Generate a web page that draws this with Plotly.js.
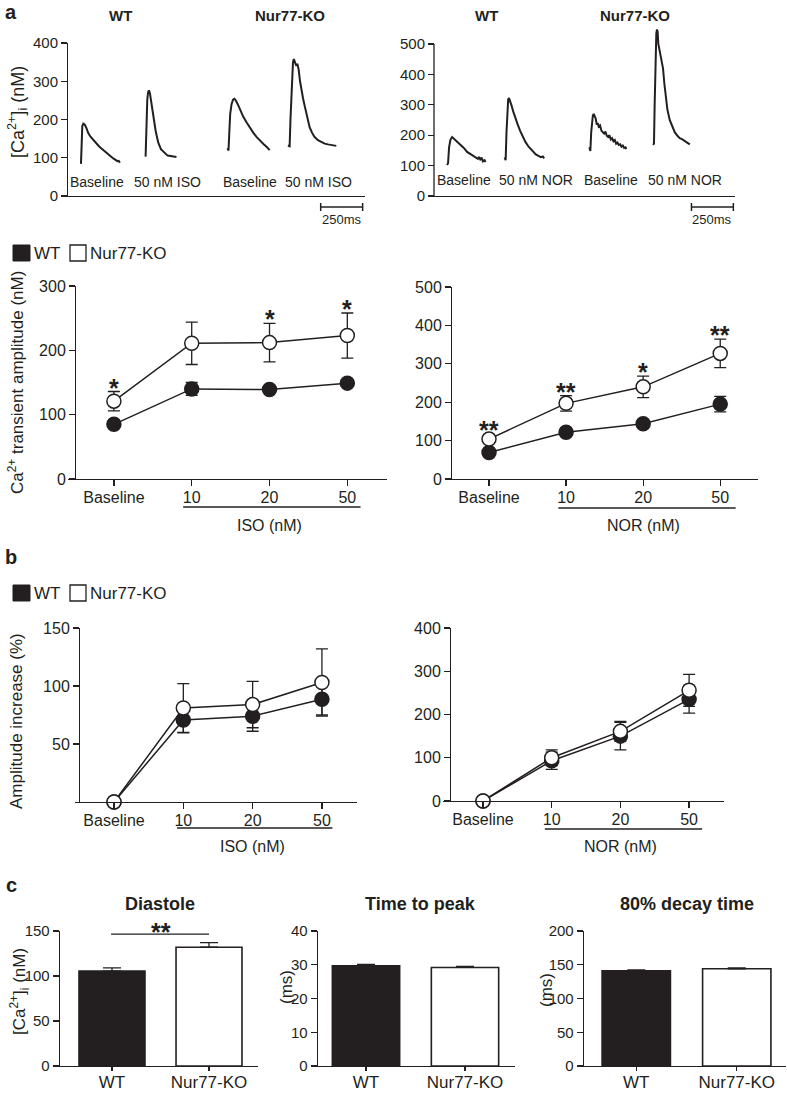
<!DOCTYPE html>
<html><head><meta charset="utf-8">
<script src="https://cdn.plot.ly/plotly-3.0.1.min.js"></script>
<style>html,body{margin:0;padding:0;background:#fff}</style>
</head><body><div id="chart" style="width:787px;height:1094px"></div>
<script>
// ================= DATA =================
const groups = ['WT', 'Nur77-KO'];
const doseCats = ['Baseline', '10', '20', '50'];

// Panel a: representative Ca2+ transients (time in ms, [Ca2+]i in nM)
const wtIsoBaseT = [113,117,121,127,135,145,157,170,180,190,200,210,220,230,240,250,260,270,280,290,300,310,320,330,338,345];
const wtIsoBaseV = [84,150,183,189,187,178,164,155,150,145,138,133,130,126,122,118,114,110,108,104,100,97,95,91,92,87];
const wtIso50T = [498,503,508,513,518,524,530,539,548,558,573,590,600,610,620,630,640,650,660,670,682];
const wtIso50V = [103,190,252,272,276,268,250,222,195,170,140,122,118,112,109,106,105,104,103,103,102];
const koIsoBaseT = [986,992,996,1002,1010,1019,1027,1035,1049,1065,1080,1100,1120,1140,1160,1180,1200,1220,1237];
const koIsoBaseV = [125,119,160,215,240,252,254,250,238,222,207,192,178,165,154,144,136,128,120];
const koIso50T = [1346,1356,1361,1366,1371,1376,1381,1386,1391,1396,1402,1410,1418,1426,1436,1446,1460,1475,1490,1505,1525,1545,1565,1584,1610,1634];
const koIso50V = [132,130,200,270,330,350,358,352,345,340,346,330,300,275,255,235,205,180,165,154,146,141,137,135,133,131];

const wtNorBaseT = [84,90,96,104,114,126,144,164,184,204,224,244,258,268,274,282,290,298,308,314];
const wtNorBaseV = [102,108,160,185,194,188,177,166,158,145,138,130,128,122,128,120,126,114,118,112];
const wtNor50T = [428,434,439,444,449,454,460,468,478,490,504,520,536,552,570,590,614,630,644,656,664];
const wtNor50V = [127,118,210,300,318,322,315,300,280,258,238,215,195,178,163,150,137,132,128,130,124];
const koNorBaseT = [934,940,945,950,955,960,966,972,978,984,990,998,1006,1014,1022,1030,1038,1046,1054,1062,1070,1078,1086,1094,1102,1110,1118,1126,1134,1142,1150,1154];
const koNorBaseV = [160,148,210,255,265,270,262,255,235,240,228,232,215,210,205,212,198,194,200,186,190,180,184,172,176,168,170,162,166,158,160,154];
const koNor50T = [1314,1320,1324,1328,1331,1334,1338,1342,1346,1350,1355,1360,1367,1374,1382,1390,1400,1414,1428,1444,1460,1474,1490,1504,1520,1534];
const koNor50V = [168,172,300,430,510,535,548,540,500,490,470,460,440,420,370,326,285,250,228,210,198,190,186,182,175,170];

const traceLabelsIso = ['Baseline', '50 nM ISO', 'Baseline', '50 nM ISO'];
const traceLabelsNor = ['Baseline', '50 nM NOR', 'Baseline', '50 nM NOR'];

// Panel a: Ca2+ transient amplitude (nM)
const isoAmpWT = [85, 140, 139, 149];
const isoAmpWTErr = [3, 10, 4, 4];
const isoAmpKO = [121, 211, 212, 223];
const isoAmpKOErr = [15, 33, 30, 35];
const isoAmpStars = ['*', '', '*', '*'];
const norAmpWT = [69, 122, 144, 195];
const norAmpWTErr = [4, 5, 5, 20];
const norAmpKO = [104, 197, 240, 327];
const norAmpKOErr = [8, 20, 28, 37];
const norAmpStars = ['**', '**', '*', '**'];

// Panel b: amplitude increase (%)
const isoIncWT = [0, 70.7, 74, 88.5];
const isoIncWTErr = [0, 11, 13, 13.5];
const isoIncKO = [0, 81, 84, 103];
const isoIncKOErr = [0, 21, 20, 29];
const norIncWT = [0, 93, 150, 235];
const norIncWTErr = [0, 20, 32, 32];
const norIncKO = [0, 100, 161, 256];
const norIncKOErr = [0, 18, 23, 37];

// Panel c
const diastole = [105.5, 132];
const diastoleErr = [3.5, 5];
const timeToPeak = [29.7, 29.2];
const timeToPeakErr = [0.4, 0.3];
const decay80 = [141, 144];
const decay80Err = [1.5, 1.5];

// ================= STYLE / LAYOUT =================
const W = 787, H = 1094;
const INK = '#231f20';
const FONT = 'Liberation Sans, Arial, Helvetica, sans-serif';
const xd = (a, b) => [a / W, b / W];
const yd = (top, bot) => [1 - bot / H, 1 - top / H];

function axis(extra) {
  return Object.assign({
    showline: true, linecolor: INK, linewidth: 1.3,
    ticks: 'outside', ticklen: 6, tickwidth: 1.3, tickcolor: INK,
    showgrid: false, zeroline: false, fixedrange: true,
    tickfont: {family: FONT, size: 15, color: INK}
  }, extra);
}

const traces = [];
function caTrace(t, v, xa, ya) {
  traces.push({x: t, y: v, xaxis: xa, yaxis: ya, type: 'scatter', mode: 'lines',
    line: {color: INK, width: 2}, hoverinfo: 'skip', showlegend: false});
}
caTrace(wtIsoBaseT, wtIsoBaseV, 'x', 'y');
caTrace(wtIso50T, wtIso50V, 'x', 'y');
caTrace(koIsoBaseT, koIsoBaseV, 'x', 'y');
caTrace(koIso50T, koIso50V, 'x', 'y');
caTrace(wtNorBaseT, wtNorBaseV, 'x2', 'y2');
caTrace(wtNor50T, wtNor50V, 'x2', 'y2');
caTrace(koNorBaseT, koNorBaseV, 'x2', 'y2');
caTrace(koNor50T, koNor50V, 'x2', 'y2');

function doseTrace(vals, errs, filled, xa, ya) {
  traces.push({x: doseCats, y: vals, xaxis: xa, yaxis: ya, type: 'scatter', mode: 'lines+markers',
    line: {color: INK, width: 1.5},
    marker: {size: 14, color: filled ? INK : '#ffffff', line: {color: INK, width: 1.5}},
    error_y: {type: 'data', array: errs, visible: true, color: INK, thickness: 1.3, width: 6},
    showlegend: false, hoverinfo: 'skip', cliponaxis: false});
}
doseTrace(isoAmpWT, isoAmpWTErr, true, 'x3', 'y3');
doseTrace(isoAmpKO, isoAmpKOErr, false, 'x3', 'y3');
doseTrace(norAmpWT, norAmpWTErr, true, 'x4', 'y4');
doseTrace(norAmpKO, norAmpKOErr, false, 'x4', 'y4');
doseTrace(isoIncWT, isoIncWTErr, true, 'x5', 'y5');
doseTrace(isoIncKO, isoIncKOErr, false, 'x5', 'y5');
doseTrace(norIncWT, norIncWTErr, true, 'x6', 'y6');
doseTrace(norIncKO, norIncKOErr, false, 'x6', 'y6');

function barTrace(vals, errs, xa, ya) {
  traces.push({x: groups, y: vals, xaxis: xa, yaxis: ya, type: 'bar', width: 0.68,
    marker: {color: [INK, '#ffffff'], line: {color: INK, width: 1.6}},
    error_y: {type: 'data', symmetric: false, array: errs, arrayminus: errs.map(() => 0),
      color: INK, thickness: 1.3, width: 9},
    showlegend: false, hoverinfo: 'skip'});
}
barTrace(diastole, diastoleErr, 'x7', 'y7');
barTrace(timeToPeak, timeToPeakErr, 'x8', 'y8');
barTrace(decay80, decay80Err, 'x9', 'y9');

const catAxis = (dom, range, ya) => axis({type: 'category', domain: dom, range: range, anchor: ya,
  ticklabelstandoff: -3, tickfont: {family: FONT, size: 16, color: INK}});
const barXAxis = (dom, range, ya) => axis({type: 'category', domain: dom, range: range, anchor: ya,
  ticklen: 4, ticklabelstandoff: -4, tickfont: {family: FONT, size: 17, color: INK}});

const layout = {
  width: W, height: H, margin: {l: 0, r: 0, t: 0, b: 0},
  paper_bgcolor: '#fff', plot_bgcolor: 'rgba(0,0,0,0)',
  font: {family: FONT, color: INK}, showlegend: false, bargap: 0,
  // top traces
  xaxis: axis({domain: xd(62, 365), range: [0, 1805], anchor: 'y', ticks: '', showticklabels: false}),
  yaxis: axis({domain: yd(43, 196), range: [0, 400], anchor: 'free', position: 67 / W, tickvals: [0,100,200,300,400], tickfont: {family: FONT, size: 15, color: INK}}),
  xaxis2: axis({domain: xd(433, 735), range: [0, 1804], anchor: 'y2', ticks: '', showticklabels: false}),
  // range extended above 500 so the tall peak is not clipped; the axis line itself is drawn as a shape up to 500
  yaxis2: axis({domain: yd(196 - 560 * 152 / 500, 196), range: [0, 560], anchor: 'free', position: 434 / W, showline: false, tickvals: [0,100,200,300,400,500], tickfont: {family: FONT, size: 15, color: INK}}),
  // amplitude
  xaxis3: catAxis(xd(68, 387), [-0.59, 3.51], 'y3'),
  yaxis3: axis({domain: yd(286, 479), range: [0, 300], anchor: 'free', position: 75 / W, tickvals: [0,100,200,300], tickfont: {family: FONT, size: 16, color: INK}}),
  xaxis4: catAxis(xd(445, 758), [-0.571, 3.49], 'y4'),
  yaxis4: axis({domain: yd(287, 479), range: [0, 500], anchor: 'free', position: 451 / W, tickvals: [0,100,200,300,400,500], tickfont: {family: FONT, size: 16, color: INK}}),
  // increase
  xaxis5: catAxis(xd(75, 357), [-0.563, 3.506], 'y5'),
  yaxis5: axis({domain: yd(628, 802), range: [0, 150], anchor: 'free', position: 79 / W, tickvals: [50,100,150], tickfont: {family: FONT, size: 16, color: INK}}),
  xaxis6: catAxis(xd(443, 724), [-0.582, 3.508], 'y6'),
  yaxis6: axis({domain: yd(628, 801), range: [0, 400], anchor: 'free', position: 450 / W, tickvals: [0,100,200,300,400], tickfont: {family: FONT, size: 16, color: INK}}),
  // bars
  xaxis7: barXAxis(xd(60, 258), [-0.536, 1.505], 'y7'),
  yaxis7: axis({domain: yd(931, 1066), range: [0, 150], anchor: 'x7', tickvals: [0,50,100,150]}),
  xaxis8: barXAxis(xd(318, 515), [-0.485, 1.505], 'y8'),
  yaxis8: axis({domain: yd(931, 1066), range: [0, 40], anchor: 'x8', tickvals: [0,10,20,30,40]}),
  xaxis9: barXAxis(xd(584, 786), [-0.52, 1.49], 'y9'),
  yaxis9: axis({domain: yd(931, 1066), range: [0, 200], anchor: 'x9', tickvals: [0,50,100,150,200]}),
  annotations: [], shapes: []
};

const A = layout.annotations, S = layout.shapes;
function txt(text, px, py, size, opts) {
  A.push(Object.assign({text: text, xref: 'paper', yref: 'paper', x: px / W, y: 1 - py / H,
    xanchor: 'center', yanchor: 'middle', showarrow: false,
    font: {family: FONT, size: size, color: INK}}, opts || {}));
}
function bold(t) { return '<b>' + t + '</b>'; }

// y axis line of the top-right trace panel (0 to 500)
S.push({type: 'line', xref: 'paper', yref: 'y2', x0: 434 / W, x1: 434 / W, y0: 0, y1: 500, line: {color: INK, width: 1.3}});

// panel letters
txt(bold('a'), 11, 12, 20);
txt(bold('b'), 11, 557, 20);
txt(bold('c'), 11, 885, 20);

// top titles
txt(bold('WT'), 120, 16, 15); txt(bold('Nur77-KO'), 290, 16, 15);
txt(bold('WT'), 487, 16, 15); txt(bold('Nur77-KO'), 635, 16, 15);

// trace labels (placed along the time axis)
const isoLabelT = [208, 631, 1120, 1525];
const norLabelT = [186, 617, 1061, 1504];
traceLabelsIso.forEach((l, i) => A.push({text: l, xref: 'x', yref: 'paper', x: isoLabelT[i], y: 1 - 182 / H,
  showarrow: false, xanchor: 'center', yanchor: 'middle', font: {family: FONT, size: 14, color: INK}}));
traceLabelsNor.forEach((l, i) => A.push({text: l, xref: 'x2', yref: 'paper', x: norLabelT[i], y: 1 - 180 / H,
  showarrow: false, xanchor: 'center', yanchor: 'middle', font: {family: FONT, size: 14, color: INK}}));

// scale bars 250 ms
function scaleBar(xref, x0) {
  const x1 = x0 + 250;
  S.push({type: 'line', xref: xref, yref: 'paper', x0: x0, x1: x1, y0: 1 - 207 / H, y1: 1 - 207 / H, line: {color: INK, width: 1.5}});
  S.push({type: 'line', xref: xref, yref: 'paper', x0: x0, x1: x0, y0: 1 - 203 / H, y1: 1 - 211 / H, line: {color: INK, width: 1.5}});
  S.push({type: 'line', xref: xref, yref: 'paper', x0: x1, x1: x1, y0: 1 - 203 / H, y1: 1 - 211 / H, line: {color: INK, width: 1.5}});
  A.push({text: '250ms', xref: xref, yref: 'paper', x: x0 + 125, y: 1 - 219 / H, showarrow: false,
    xanchor: 'center', yanchor: 'middle', font: {family: FONT, size: 13, color: INK}});
}
scaleBar('x', 1541);
scaleBar('x2', 1544);

// y-axis titles
txt('[Ca<sup>2+</sup>]<sub>i</sub> (nM)', 17, 112, 18, {textangle: -90});
txt('Ca<sup>2+</sup> transient amplitude (nM)', 16, 383, 17, {textangle: -90});
txt('Amplitude increase (%)', 16, 721, 17, {textangle: -90});
txt('[Ca<sup>2+</sup>]<sub>i</sub> (nM)', 19, 992, 17, {textangle: -90});
txt('(ms)', 286, 987, 17, {textangle: -90});
txt('(ms)', 546, 990, 17, {textangle: -90});

// legends
function legend(py) {
  S.push({type: 'rect', xref: 'paper', yref: 'paper', x0: 13 / W, x1: 30 / W, y0: 1 - (py - 8) / H, y1: 1 - (py + 8) / H,
    fillcolor: INK, line: {color: INK, width: 1}});
  S.push({type: 'rect', xref: 'paper', yref: 'paper', x0: 70 / W, x1: 86 / W, y0: 1 - (py - 8) / H, y1: 1 - (py + 8) / H,
    fillcolor: '#fff', line: {color: INK, width: 1.3}});
  txt(groups[0], 32, py, 17, {xanchor: 'left'});
  txt(groups[1], 88, py, 17, {xanchor: 'left'});
}
legend(253);
legend(593);

// dose brackets + labels
function bracket(xref, x0, x1, py, label, ly) {
  S.push({type: 'line', xref: xref, yref: 'paper', x0: x0, x1: x1, y0: 1 - py / H, y1: 1 - py / H, line: {color: INK, width: 1.3}});
  A.push({text: label, xref: xref, yref: 'paper', x: 2, y: 1 - ly / H, showarrow: false,
    xanchor: 'center', yanchor: 'middle', font: {family: FONT, size: 16, color: INK}});
}
bracket('x3', 0.89, 3.17, 507, 'ISO (nM)', 525);
bracket('x4', 0.90, 3.20, 508, 'NOR (nM)', 525);
bracket('x5', 0.91, 3.15, 828, 'ISO (nM)', 846);
bracket('x6', 0.90, 3.19, 829, 'NOR (nM)', 846);

// significance stars (placed above the KO point / error bar)
function stars(list, vals, errs, xa, ya, pxPerUnit) {
  list.forEach((s, i) => {
    if (!s) return;
    const errPx = errs[i] * pxPerUnit;
    A.push({text: '<b>' + s + '</b>', xref: xa, yref: ya, x: i, y: vals[i], showarrow: false,
      xanchor: 'center', yanchor: 'middle', yshift: Math.max(errPx, 5) + 4,
      font: {family: FONT, size: 25, color: INK}});
  });
}
stars(isoAmpStars, isoAmpKO, isoAmpKOErr, 'x3', 'y3', 193 / 300);
stars(norAmpStars, norAmpKO, norAmpKOErr, 'x4', 'y4', 192 / 500);

// panel c titles
txt(bold('Diastole'), 160, 904, 18);
txt(bold('Time to peak'), 421, 904, 18);
txt(bold('80% decay time'), 687, 904, 18);

// diastole significance
S.push({type: 'line', xref: 'x7', yref: 'y7', x0: -0.01, x1: 1.0, y0: 146.5, y1: 146.5, line: {color: INK, width: 1.3}});
A.push({text: '<b>**</b>', xref: 'x7', yref: 'y7', x: 0.5, y: 146.5, showarrow: false, xanchor: 'center', yanchor: 'middle',
  yshift: 2, font: {family: FONT, size: 25, color: INK}});

Plotly.newPlot('chart', traces, layout, {staticPlot: true, displayModeBar: false});
</script></body></html>
